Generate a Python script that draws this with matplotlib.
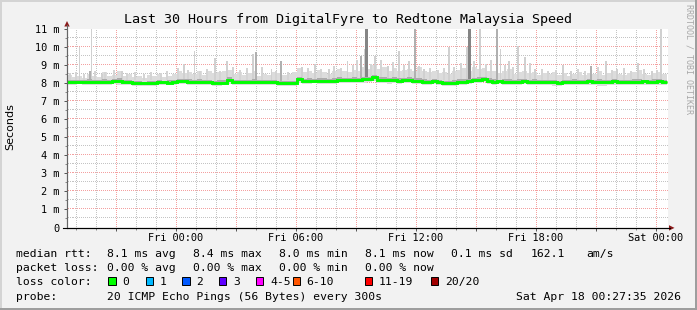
import numpy as np
import matplotlib.pyplot as plt
from matplotlib.patches import Rectangle, Polygon
from matplotlib.lines import Line2D

# ---- data (ms), one value per 15 minutes, hours relative to Fri 00:00 ----
start_hour = -5.45
step_hours = 0.25

median = [8.07, 8.06, 8.08, 8.07, 8.05, 8.07, 8.08, 8.06, 8.07,
          8.10, 8.11, 8.09,
          8.04,
          7.99, 7.98, 8.00, 7.99, 7.98,
          8.04, 8.05, 8.03, 8.05,
          8.10, 8.11, 8.09,
          8.06, 8.07, 8.05, 8.06,
          8.01, 8.00, 8.01,
          8.20,
          8.07, 8.06, 8.05, 8.07, 8.06, 8.05, 8.07, 8.06, 8.04,
          8.00, 7.99, 7.98, 8.00,
          8.22,
          8.13, 8.12, 8.14, 8.13, 8.12, 8.14, 8.13, 8.15,
          8.17, 8.18, 8.19, 8.18, 8.21, 8.23,
          8.33,
          8.18, 8.16, 8.15, 8.16, 8.14, 8.15, 8.16, 8.14, 8.12,
          8.09, 8.08, 8.10, 8.05,
          8.00, 7.99, 8.02,
          8.08, 8.09, 8.10, 8.17,
          8.20, 8.21, 8.14,
          8.09, 8.10, 8.08, 8.09, 8.07, 8.09, 8.10, 8.08, 8.09, 8.08,
          8.07, 8.06, 8.04, 8.02, 8.05, 8.08, 8.09, 8.07, 8.08, 8.10,
          8.09, 8.08, 8.07, 8.09, 8.10, 8.08, 8.09, 8.07, 8.08, 8.09,
          8.10, 8.08, 8.09, 8.10, 8.09]

smoke_hi = [8.45, 8.35, 8.40, 8.30, 8.50, 8.38, 8.32, 8.60, 8.42,
            8.45, 8.70, 8.40,
            8.50,
            8.35, 8.40, 8.30, 8.45, 8.38,
            8.50, 8.35, 8.42, 8.48,
            8.70, 8.55, 8.60,
            8.50, 8.65, 8.45, 8.70,
            8.55, 8.60, 8.70,
            8.75,
            8.50, 8.60, 8.45, 8.55, 8.70, 8.40, 8.50, 8.45, 8.60,
            8.55, 8.45, 8.50, 8.60,
            8.85,
            8.60, 8.70, 8.55, 8.75, 8.60, 8.50, 8.65, 8.80,
            8.70, 8.60, 8.75, 8.65, 8.90, 8.80,
            9.00,
            8.80, 8.90, 8.70, 8.85, 8.65, 8.75, 8.80, 8.70, 8.90,
            8.65, 8.60, 8.70, 8.55,
            8.60, 8.50, 8.70,
            8.75, 8.85, 8.70, 8.90,
            8.80, 8.85, 8.70,
            8.70, 8.55, 8.65, 8.80, 8.50, 8.60, 8.70, 8.55, 8.60, 8.45,
            8.55, 8.50, 8.60, 8.45, 8.55, 8.40, 8.50, 8.60, 8.45, 8.55,
            8.50, 8.65, 8.45, 8.55, 8.70, 8.50, 8.45, 8.55, 8.60, 8.75,
            8.50, 8.45, 8.55, 8.60, 8.50]

smoke_lo = [7.92, 7.90, 7.93, 7.88, 7.91, 7.90, 7.92, 7.89, 7.91,
            7.93, 7.92, 7.90,
            7.88,
            7.85, 7.82, 7.86, 7.84, 7.83,
            7.88, 7.90, 7.87, 7.89,
            7.94, 7.93, 7.92,
            7.90, 7.91, 7.89, 7.90,
            7.86, 7.85, 7.87,
            7.95,
            7.92, 7.90, 7.89, 7.91, 7.90, 7.88, 7.91, 7.89, 7.87,
            7.84, 7.82, 7.83, 7.85,
            7.98,
            7.97, 7.95, 7.98, 7.96, 7.95, 7.97, 7.96, 7.98,
            8.00, 8.01, 8.02, 8.00, 8.03, 8.05,
            8.10,
            8.00, 7.98, 7.97, 7.99, 7.96, 7.98, 7.99, 7.96, 7.94,
            7.92, 7.90, 7.93, 7.88,
            7.84, 7.83, 7.86,
            7.91, 7.92, 7.94, 8.00,
            8.03, 8.04, 7.97,
            7.92, 7.93, 7.90, 7.91, 7.89, 7.92, 7.93, 7.90, 7.91, 7.90,
            7.89, 7.88, 7.86, 7.84, 7.87, 7.90, 7.91, 7.89, 7.90, 7.92,
            7.91, 7.85, 7.84, 7.90, 7.92, 7.90, 7.91, 7.89, 7.90, 7.91,
            7.92, 7.90, 7.91, 7.92, 7.91]

inner_hi = [8.18, 8.15, 8.20, 8.16, 8.22, 8.17, 8.19, 8.25, 8.18,
            8.22, 8.28, 8.20,
            8.16,
            8.10, 8.12, 8.09, 8.14, 8.11,
            8.16, 8.13, 8.15, 8.18,
            8.25, 8.22, 8.21,
            8.18, 8.22, 8.16, 8.20,
            8.14, 8.16, 8.18,
            8.32,
            8.18, 8.20, 8.16, 8.19, 8.22, 8.15, 8.18, 8.17, 8.20,
            8.12, 8.10, 8.11, 8.14,
            8.35,
            8.25, 8.28, 8.24, 8.30, 8.26, 8.23, 8.27, 8.32,
            8.30, 8.28, 8.33, 8.29, 8.36, 8.35,
            8.45,
            8.32, 8.35, 8.28, 8.33, 8.27, 8.30, 8.32, 8.28, 8.30,
            8.22, 8.20, 8.24, 8.18,
            8.14, 8.12, 8.16,
            8.22, 8.25, 8.24, 8.30,
            8.33, 8.35, 8.27,
            8.22, 8.20, 8.21, 8.25, 8.18, 8.21, 8.24, 8.19, 8.21, 8.18,
            8.20, 8.17, 8.16, 8.14, 8.17, 8.19, 8.21, 8.20, 8.18, 8.22,
            8.20, 8.23, 8.18, 8.20, 8.24, 8.19, 8.18, 8.20, 8.21, 8.25,
            8.19, 8.18, 8.21, 8.22, 8.20]

inner_lo = [8.00, 7.99, 8.01, 8.00, 7.98, 8.00, 8.01, 7.99, 8.00,
            8.03, 8.04, 8.02,
            7.97,
            7.92, 7.91, 7.93, 7.92, 7.91,
            7.97, 7.98, 7.96, 7.98,
            8.03, 8.04, 8.02,
            7.99, 8.00, 7.98, 7.99,
            7.94, 7.93, 7.94,
            8.10,
            8.00, 7.99, 7.98, 8.00, 7.99, 7.98, 8.00, 7.99, 7.97,
            7.93, 7.92, 7.91, 7.93,
            8.12,
            8.06, 8.05, 8.07, 8.06, 8.05, 8.07, 8.06, 8.08,
            8.10, 8.11, 8.12, 8.11, 8.14, 8.15,
            8.22,
            8.10, 8.08, 8.07, 8.08, 8.06, 8.07, 8.08, 8.06, 8.04,
            8.01, 8.00, 8.02, 7.97,
            7.92, 7.91, 7.94,
            8.00, 8.01, 8.02, 8.09,
            8.12, 8.13, 8.06,
            8.01, 8.02, 8.00, 8.01, 7.99, 8.01, 8.02, 8.00, 8.01, 8.00,
            7.99, 7.98, 7.96, 7.94, 7.97, 8.00, 8.01, 7.99, 8.00, 8.02,
            8.01, 8.00, 7.99, 8.01, 8.02, 8.00, 8.01, 7.99, 8.00, 8.01,
            8.02, 8.00, 8.01, 8.02, 8.01]

# single slow pings (big spikes in the smoke)
spike_hours = [-4.83, -4.23, -4.30, -3.70, -2.70, 0.38, 0.92, 1.93, 2.55, 3.85,
               4.00, 4.77, 5.27, 6.30, 6.95, 7.63, 8.57, 9.25, 9.42, 9.52,
               9.95, 10.60, 11.15, 11.63, 11.93, 12.38, 13.65, 14.55, 14.67, 15.20,
               16.07, 16.22, 16.63, 17.10, 17.45, 17.93, 19.35, 19.75, 20.75, 21.50,
               22.05, 23.10, 23.80, 24.25]
spike_tops = [10.0, 11.0, 8.7, 8.5, 8.7, 9.05, 9.76, 9.39, 9.2, 9.6,
              9.7, 8.8, 9.24, 8.9, 9.05, 8.8, 9.2, 9.5, 9.9, 11.0,
              9.5, 8.95, 9.76, 9.2, 11.0, 8.8, 9.98, 10.0, 11.0, 11.0,
              11.0, 9.9, 9.2, 10.05, 9.45, 8.8, 9.0, 8.7, 8.95, 9.2,
              8.8, 9.1, 8.7, 11.0]
spike_kind = ['l', 'l', 'm', 'l', 'l', 'l', 'l', 'l', 'l', 'l',
              'm', 'l', 'm', 'l', 'l', 'l', 'l', 'm', 'l', 'd',
              'l', 'l', 'l', 'l', 'm', 'l', 'l', 'l', 'd', 'l',
              'm', 'l', 'l', 'l', 'l', 'l', 'l', 'l', 'm', 'l',
              'l', 'l', 'l', 'l']

# small slow pings just above the band
small_hours = [-5.30, -5.00, -4.60, -4.05, -3.55, -3.10, -2.45, -2.05, -1.60, -1.25,
               -0.75, -0.45, 0.10, 0.60, 1.20, 1.55, 2.20, 2.85, 3.20, 3.55,
               4.30, 5.00, 5.60, 6.60, 7.25, 7.90, 8.25, 8.85, 9.05, 9.75,
               10.25, 10.85, 11.40, 12.15, 12.70, 13.10, 13.40, 13.90, 14.25, 14.90,
               15.50, 15.75, 16.45, 16.85, 17.70, 18.30, 18.60, 19.00, 20.10, 20.45,
               21.10, 21.80, 22.40, 22.75, 23.40, 24.05]
small_tops = [8.55, 8.60, 8.50, 8.65, 8.60, 8.75, 8.55, 8.60, 8.50, 8.60,
              8.55, 8.70, 8.85, 8.75, 8.70, 8.80, 8.65, 8.90, 8.75, 8.85,
              8.90, 8.70, 8.60, 8.85, 8.80, 8.95, 8.85, 9.00, 9.30, 9.05,
              9.30, 9.15, 9.00, 8.95, 8.85, 8.75, 8.85, 8.90, 9.10, 9.20,
              9.05, 9.30, 9.00, 8.90, 9.10, 8.80, 8.70, 8.75, 8.80, 8.70,
              8.90, 8.75, 8.85, 8.70, 8.80, 8.75]

y_ticks = list(range(12))
y_labels = ['0'] + ['%d m' % v for v in range(1, 12)]
x_label_hours = [0, 6, 12, 18, 24]
x_label_text = ['Fri 00:00', 'Fri 06:00', 'Fri 12:00', 'Fri 18:00', 'Sat 00:00']

loss_names = ['0', '1', '2', '3', '4-5', '6-10', '11-19', '20/20']
loss_colors = ['#00ff00', '#00b8ff', '#0059ff', '#5e00ff', '#ff00ff',
               '#ff5500', '#ff0000', '#a10000']

# ---- figure ----
W, H = 697, 310
plt.rcParams['font.family'] = ['DejaVu Sans Mono']


def fx(x):
    return x / W


def fy(y):
    return 1 - y / H


fig = plt.figure(figsize=(W / 100, H / 100), dpi=100, facecolor='#f2f2f2')

# frame of the image
fig.patches.append(Rectangle((0, fy(2)), 1, 2 / H, transform=fig.transFigure,
                             facecolor='#d4d4d4', edgecolor='none'))
fig.patches.append(Rectangle((0, 0), 2 / W, 1, transform=fig.transFigure,
                             facecolor='#d4d4d4', edgecolor='none'))
fig.patches.append(Rectangle((0, 0), 1, 2.5 / H, transform=fig.transFigure,
                             facecolor='#9e9e9e', edgecolor='none'))
fig.patches.append(Rectangle((fx(W - 2.5), 0), 2.5 / W, 1, transform=fig.transFigure,
                             facecolor='#9e9e9e', edgecolor='none'))

ax = fig.add_axes([fx(67), fy(227.5), 601 / W, 198.5 / H])
ax.set_facecolor('white')
x0, x1 = -5.45, 24.6
ax.set_xlim(x0, x1)
ax.set_ylim(0, 11)

# dotted grid drawn pixel by pixel (1 px on, 1 px off)
px_x = (x1 - x0) / 601
px_y = 11 / 198.5
gx = np.arange(x0 + px_x * 0.5, x1, 2 * px_x)
gy = np.arange(px_y * 0.5, 11, 2 * px_y)


def dotted(hvals, vvals, color):
    xs, ys = [], []
    for v in hvals:
        xs.append(gx)
        ys.append(np.full_like(gx, v))
    for h in vvals:
        xs.append(np.full_like(gy, h))
        ys.append(gy)
    ax.plot(np.concatenate(xs), np.concatenate(ys), linestyle='none', marker=',',
            color=color, zorder=1)


dotted(np.arange(0.5, 11, 1.0), [h for h in range(-5, 25) if h % 3 != 0], '#c4c4c4')
dotted(np.arange(1, 11.5, 1.0), list(range(-3, 25, 3)), '#f4a0a0')

t = start_hour + step_hours * np.arange(len(median))
edges = np.append(t, t[-1] + step_hours)
lo = np.array(smoke_lo)
hi = np.array(smoke_hi)
ilo = np.array(inner_lo)
ihi = np.array(inner_hi)

ax.bar(t, hi - lo, bottom=lo, width=step_hours, align='edge',
       color='#dcdcdc', linewidth=0, zorder=2)
ax.bar(small_hours, np.array(small_tops) - 8.2, bottom=8.2, width=0.09,
       color='#d4d4d4', linewidth=0, zorder=3)
shade = {'l': '#d0d0d0', 'm': '#b0b0b0', 'd': '#858585'}
wid = {'l': 0.09, 'm': 0.1, 'd': 0.14}
for h, top, k in zip(spike_hours, spike_tops, spike_kind):
    ax.bar(h, top - 8.1, bottom=8.1, width=wid[k], color=shade[k],
           linewidth=0, zorder=3)
ax.bar(t, ihi - ilo, bottom=ilo, width=step_hours, align='edge',
       color='#ababab', linewidth=0, zorder=4)
ax.stairs(median, edges, color='#00ff00', linewidth=2.1, baseline=None, zorder=5)

# ticks
ax.set_yticks(y_ticks)
ax.set_yticklabels(y_labels)
ax.set_yticks(np.arange(0.5, 11, 1), minor=True)
ax.set_xticks(np.arange(-3, 25, 3))
ax.set_xticklabels([x_label_text[x_label_hours.index(h)] if h in x_label_hours else ''
                    for h in range(-3, 25, 3)])
ax.set_xticks(np.arange(-5, 25, 1), minor=True)
for s in ['top', 'right']:
    ax.spines[s].set_visible(False)
ax.spines['left'].set_color('#666666')
ax.spines['left'].set_linewidth(0.8)
ax.spines['bottom'].set_color('black')
ax.spines['bottom'].set_linewidth(0.8)
ax.tick_params(which='major', length=2.2, width=0.7, color='#555555',
               labelsize=7.4, labelcolor='black')
ax.tick_params(axis='y', which='major', pad=3.3)
ax.tick_params(axis='x', which='major', pad=1.8)
ax.tick_params(which='minor', length=1.3, width=0.6, color='#777777')

# axis extensions and arrows
fig.lines.append(Line2D([fx(67), fx(67)], [fy(227.5), fy(25)], transform=fig.transFigure,
                        color='#666666', linewidth=0.8))
fig.lines.append(Line2D([fx(63), fx(670)], [fy(227.8), fy(227.8)], transform=fig.transFigure,
                        color='black', linewidth=0.8))
fig.patches.append(Polygon([(fx(64.3), fy(26.5)), (fx(69.7), fy(26.5)), (fx(67), fy(21))],
                           closed=True, transform=fig.transFigure,
                           facecolor='#8b1a1a', edgecolor='none'))
fig.patches.append(Polygon([(fx(669), fy(225.2)), (fx(669), fy(230.6)), (fx(674.5), fy(227.9))],
                           closed=True, transform=fig.transFigure,
                           facecolor='#8b1a1a', edgecolor='none'))

# texts
fig.text(fx(348), fy(19), 'Last 30 Hours from DigitalFyre to Redtone Malaysia Speed',
         ha='center', va='center', fontsize=9.6, color='black')
fig.text(fx(10), fy(127), 'Seconds', rotation=90, ha='center', va='center',
         fontsize=8, family='DejaVu Sans')
fig.text(fx(689), fy(59), 'RRDTOOL / TOBI OETIKER', rotation=270, ha='center', va='center',
         fontsize=6.0, color='#a8a8a8')

fs = 8.2
rows = [
    (254, [(16, 'median rtt:'), (107, '8.1 ms avg'), (193, '8.4 ms max'), (279, '8.0 ms min'),
           (365, '8.1 ms now'), (451, '0.1 ms sd'), (531, '162.1'), (586, 'am/s')]),
    (268, [(16, 'packet loss:'), (107, '0.00 % avg'), (193, '0.00 % max'), (279, '0.00 % min'),
           (365, '0.00 % now')]),
    (282, [(16, 'loss color:')]),
    (296.5, [(16, 'probe:'), (107, '20 ICMP Echo Pings (56 Bytes) every 300s')]),
]
for yy, items in rows:
    for xx, s in items:
        fig.text(fx(xx), fy(yy), s, ha='left', va='center', fontsize=fs)
fig.text(fx(680.5), fy(296.5), 'Sat Apr 18 00:27:35 2026', ha='right', va='center', fontsize=fs)

box_x = [108.3, 145.7, 182.3, 219, 256, 292.7, 365, 430.7]
for bx, name, c in zip(box_x, loss_names, loss_colors):
    fig.patches.append(Rectangle((fx(bx), fy(285)), 7.4 / W, 7.6 / H,
                                 transform=fig.transFigure, facecolor=c,
                                 edgecolor='black', linewidth=0.7))
    fig.text(fx(bx + 14), fy(282), name, ha='left', va='center', fontsize=fs)

fig.savefig('out.png', dpi=100, facecolor=fig.get_facecolor())
